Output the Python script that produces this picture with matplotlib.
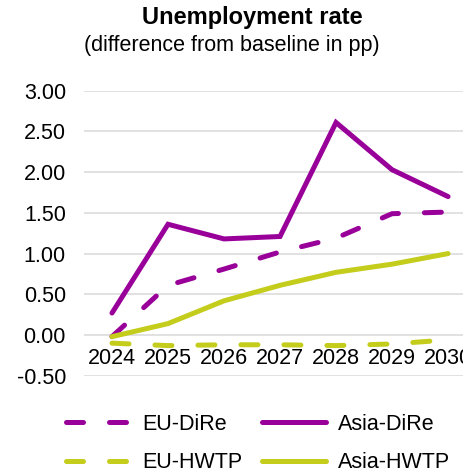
import matplotlib
matplotlib.use("Agg")
import matplotlib.pyplot as plt
import numpy as np

plt.rcParams['font.family'] = ['Liberation Sans', 'DejaVu Sans']

# data
years = ['2024', '2025', '2026', '2027', '2028', '2029', '2030']
eu_dire = [-0.02, 0.61, 0.81, 1.02, 1.19, 1.49, 1.51]
asia_dire = [0.27, 1.36, 1.18, 1.21, 2.61, 2.03, 1.70]
eu_hwtp = [-0.10, -0.13, -0.12, -0.12, -0.13, -0.11, -0.06]
asia_hwtp = [-0.02, 0.14, 0.42, 0.61, 0.77, 0.87, 1.00]
yticks = [-0.5, 0.0, 0.5, 1.0, 1.5, 2.0, 2.5, 3.0]

purple = '#990099'
green = '#C4CC1C'
lw = 3.6
dash = (3.4, 5.2)
fs = 15.5

fig = plt.figure(figsize=(4.64, 4.75), dpi=100)
ax = fig.add_axes([0.181, 0.209, 0.845, 0.600])

x = np.arange(len(years))
series = [
    (eu_dire, purple, True, 'EU-DiRe'),
    (asia_dire, purple, False, 'Asia-DiRe'),
    (eu_hwtp, green, True, 'EU-HWTP'),
    (asia_hwtp, green, False, 'Asia-HWTP'),
]
handles = {}
for vals, col, dashed, name in series:
    if dashed:
        ln, = ax.plot(x, vals, color=col, lw=lw, dashes=dash,
                      dash_capstyle='round', solid_capstyle='round', label=name)
    else:
        ln, = ax.plot(x, vals, color=col, lw=lw, solid_capstyle='round',
                      solid_joinstyle='miter', label=name)
    handles[name] = ln

ax.set_xlim(-0.5, 6.5)
ax.set_ylim(-0.5, 3.0)
ax.set_yticks(yticks)
ax.set_yticklabels([f'{v:.2f}' for v in yticks])
ax.set_xticks(x)
ax.set_xticklabels(years)
ax.grid(axis='y', color='#d9d9d9', lw=1.1)
ax.set_axisbelow(True)
for s in ax.spines.values():
    s.set_visible(False)
ax.spines['bottom'].set_position(('data', 0))
ax.tick_params(axis='both', length=0, labelsize=fs)
ax.tick_params(axis='y', pad=13)
ax.tick_params(axis='x', pad=9)

fig.text(0.543, 0.963, 'Unemployment rate', ha='center', va='center',
         fontsize=17, fontweight='bold')
fig.text(0.5, 0.905, '(difference from baseline in pp)', ha='center',
         va='center', fontsize=fs)

order = ['EU-DiRe', 'EU-HWTP', 'Asia-DiRe', 'Asia-HWTP']
fig.legend([handles[n] for n in order], order, ncol=2, loc='center left',
           bbox_to_anchor=(0.142, 0.066), frameon=False, fontsize=fs,
           handlelength=3.0, handletextpad=0.55, columnspacing=0.9,
           labelspacing=0.82, borderpad=0, borderaxespad=0)

fig.savefig('out.png', dpi=100)
